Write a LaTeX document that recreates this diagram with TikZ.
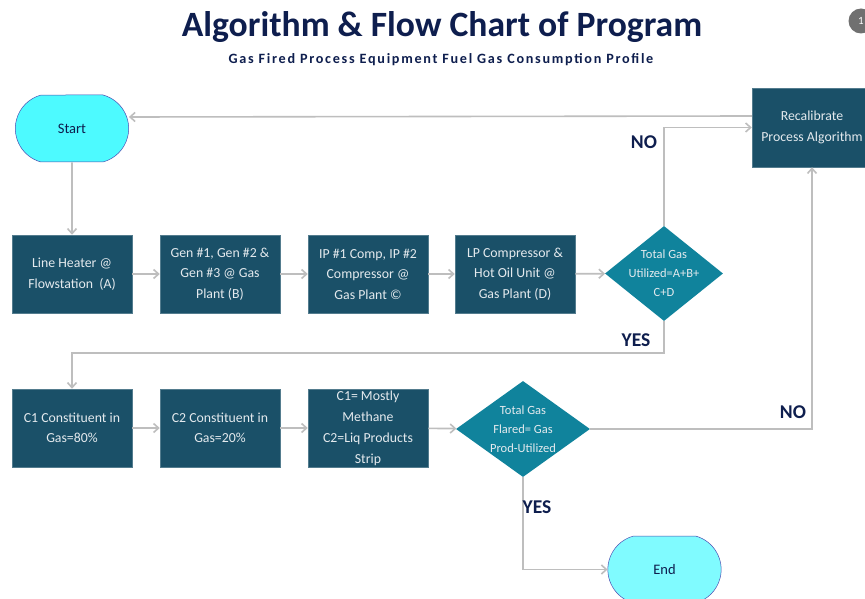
\documentclass[tikz,border=0pt]{standalone}
\usepackage{fontspec}
\setmainfont{Carlito}
\usetikzlibrary{shapes.geometric,shapes.misc,arrows.meta}
\definecolor{boxfill}{RGB}{26,80,104}
\definecolor{diafill}{RGB}{16,131,156}
\definecolor{startfill}{RGB}{77,250,255}
\definecolor{endfill}{RGB}{128,251,255}
\definecolor{navy}{RGB}{14,30,78}
\definecolor{connclr}{RGB}{190,190,190}
\definecolor{boxtext}{RGB}{228,234,238}
\definecolor{badge}{RGB}{112,112,112}
\begin{document}
\begin{tikzpicture}[x=1pt,y=-1pt,
  procbox/.style={rectangle, fill=boxfill, draw=boxfill!75!white, line width=0.5pt,
    minimum width=120pt, minimum height=78pt, text=boxtext, align=center,
    inner sep=1pt, font=\fontsize{13.8}{20.5}\selectfont},
  decision/.style={diamond, fill=diafill, draw=none, inner sep=0pt},
  dtext/.style={text=boxtext, align=center, inner sep=0pt, font=\fontsize{12.5}{19}\selectfont},
  terminal/.style={rounded rectangle, rounded rectangle arc length=150, draw=blue!40!gray,
    line width=0.5pt, minimum width=120pt, minimum height=67pt, text=navy,
    font=\fontsize{14.5}{16}\selectfont},
  conn/.style={draw=connclr, line width=1.6pt, -{Straight Barb[length=5pt,width=9pt]}},
  lbl/.style={text=navy, font=\fontsize{19.5}{21}\bfseries\selectfont, inner sep=0pt}]
\useasboundingbox (0,0) rectangle (865,599);
\fill[white] (0,0) rectangle (865,599);

% title
\node[text=navy, font=\fontsize{35.6}{40}\bfseries\selectfont, anchor=base, inner sep=0pt] (title) at (442,37) {Algorithm \& Flow Chart of Program};
\node[text=navy, font=\fontsize{14.2}{16}\bfseries\selectfont\addfontfeatures{LetterSpace=12}, anchor=base, inner sep=0pt] (subtitle) at (441,64) {Gas Fired Process Equipment Fuel Gas Consumption Profile};
\node[circle, fill=badge, minimum size=25pt, inner sep=0pt, text=white, font=\fontsize{11}{12}\selectfont] (badge) at (861,21) {1};

% nodes
\node[terminal, fill=startfill] (start) at (72,128.5) {Start};
\node[procbox] (b1) at (72,274) {Line Heater @\\Flowstation~~(A)};
\node[procbox] (b2) at (220,274) {Gen \#1, Gen \#2 \&\\Gen \#3 @ Gas\\Plant (B)};
\node[procbox] (b3) at (368,274) {IP \#1 Comp, IP \#2\\Compressor @\\Gas Plant ©};
\node[procbox] (b4) at (515,274) {LP Compressor \&\\Hot Oil Unit @\\Gas Plant (D)};
\node[decision, minimum width=118pt, minimum height=95pt] (d1) at (664,273.5) {};
\node[dtext] (d1t) at (d1) {Total Gas\\Utilized=A+B+\\C+D};
\node[procbox, minimum height=79pt] (recal) at (812,127.5) {Recalibrate\\Process Algorithm};

\node[procbox] (b5) at (72,428) {C1 Constituent in\\Gas=80\%};
\node[procbox] (b6) at (220,428) {C2 Constituent in\\Gas=20\%};
\node[procbox, font=\fontsize{13.8}{21}\selectfont] (b7) at (368,428) {C1= Mostly\\Methane\\C2=Liq Products\\Strip};
\node[decision, minimum width=134pt, minimum height=96pt] (d2) at (523,429) {};
\node[dtext] (d2t) at (d2) {Total Gas\\Flared= Gas\\Prod-Utilized};
\node[terminal, fill=endfill] (endn) at (664.5,569.5) {End};

% connectors
\draw[conn] (start) -- (b1);
\draw[conn] (b1) -- (b2);
\draw[conn] (b2) -- (b3);
\draw[conn] (b3) -- (b4);
\draw[conn] (b4) -- (d1);
\draw[conn] (d1.north) |- (recal.west);
\draw[conn] (recal.west |- 0,116) -- (start.east |- 0,117);
\coordinate (yesjoin) at (72,353);
\draw[conn] (d1.south) |- (yesjoin) -- (b5.north);
\draw[conn] (b5) -- (b6);
\draw[conn] (b6) -- (b7);
\draw[conn] (b7) -- (d2);
\draw[conn] (d2.east) -| (recal.south);
\draw[conn] (d2.south) |- (endn.west);

% labels
\node[lbl] (no1) at (644,142) {NO};
\node[lbl] (yes1) at (636,340) {YES};
\node[lbl] (no2) at (793,412) {NO};
\node[lbl] (yes2) at (537,507) {YES};
\end{tikzpicture}
\end{document}
